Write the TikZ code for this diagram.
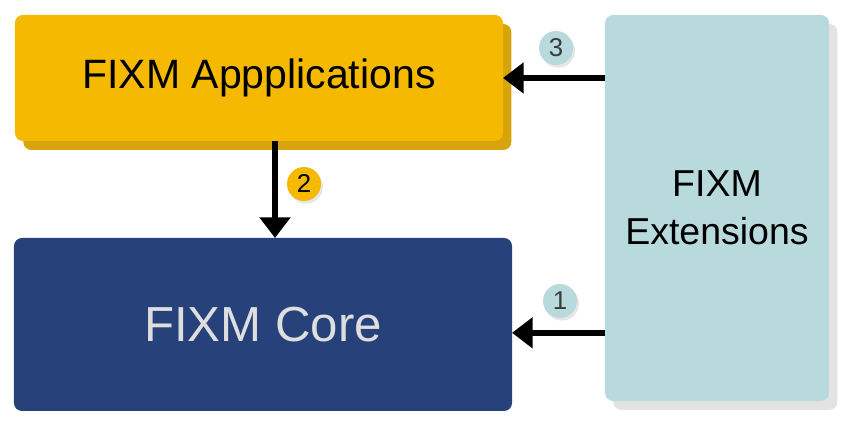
\documentclass[tikz,border=0pt]{standalone}
\usepackage{fontspec}
\setmainfont{Liberation Sans}
\usetikzlibrary{positioning,calc,arrows.meta,shadows}

\definecolor{appyellow}{RGB}{244,185,0}
\definecolor{appshade}{RGB}{216,164,12}
\definecolor{corenavy}{RGB}{39,66,122}
\definecolor{coretext}{RGB}{222,222,222}
\definecolor{extblue}{RGB}{184,218,221}
\definecolor{badgetext}{RGB}{60,60,60}

\begin{document}
\begin{tikzpicture}[
  x=0.03cm,y=0.03cm,
  every node/.style={inner sep=0pt,outer sep=0pt},
  block/.style={rectangle,rounded corners=0.24cm,align=center},
  flow/.style={draw,line width=0.18cm,-{Triangle[length=0.62cm,width=0.9cm]}},
  badge/.style={circle,minimum size=1.02cm,font=\fontsize{22}{22}\selectfont,
    drop shadow={shadow xshift=0.06cm,shadow yshift=-0.08cm,opacity=0.2}},
  ]
  \useasboundingbox (0,0) rectangle (854,424);

  \node [block,fill=appyellow,minimum width=14.64cm,minimum height=3.78cm,
    copy shadow={shadow xshift=0.25cm,shadow yshift=-0.27cm,fill=appshade,draw=none},
    font=\fontsize{35}{42}\selectfont] (apps) at (259,346) {FIXM Appplications};

  \node [block,fill=corenavy,text=coretext,minimum width=14.94cm,minimum height=5.19cm,
    font=\fontsize{42}{50}\selectfont] (core) at (263,99.5) {FIXM Core};

  \node [block,fill=extblue,minimum width=6.72cm,minimum height=11.58cm,
    drop shadow={shadow xshift=0.25cm,shadow yshift=-0.27cm,opacity=0.22},
    font=\fontsize{32}{41}\selectfont] (ext) at (717,216) {FIXM\\Extensions};

  \draw [flow] (ext.west |- apps.east) -- (apps.east);
  \draw [flow] ([yshift=-0.25cm]ext.west |- core.east) -- ([yshift=-0.25cm]core.east);
  \draw [flow] ([xshift=0.48cm]apps.south) -- ([xshift=0.48cm]apps.south |- core.north);

  \node [badge,fill=appyellow] (badge2) at (304,240) {2};
  \node [badge,fill=extblue,text=badgetext] (badge3) at (556,376) {3};
  \node [badge,fill=extblue,text=badgetext] (badge1) at (560,123) {1};

\end{tikzpicture}
\end{document}
